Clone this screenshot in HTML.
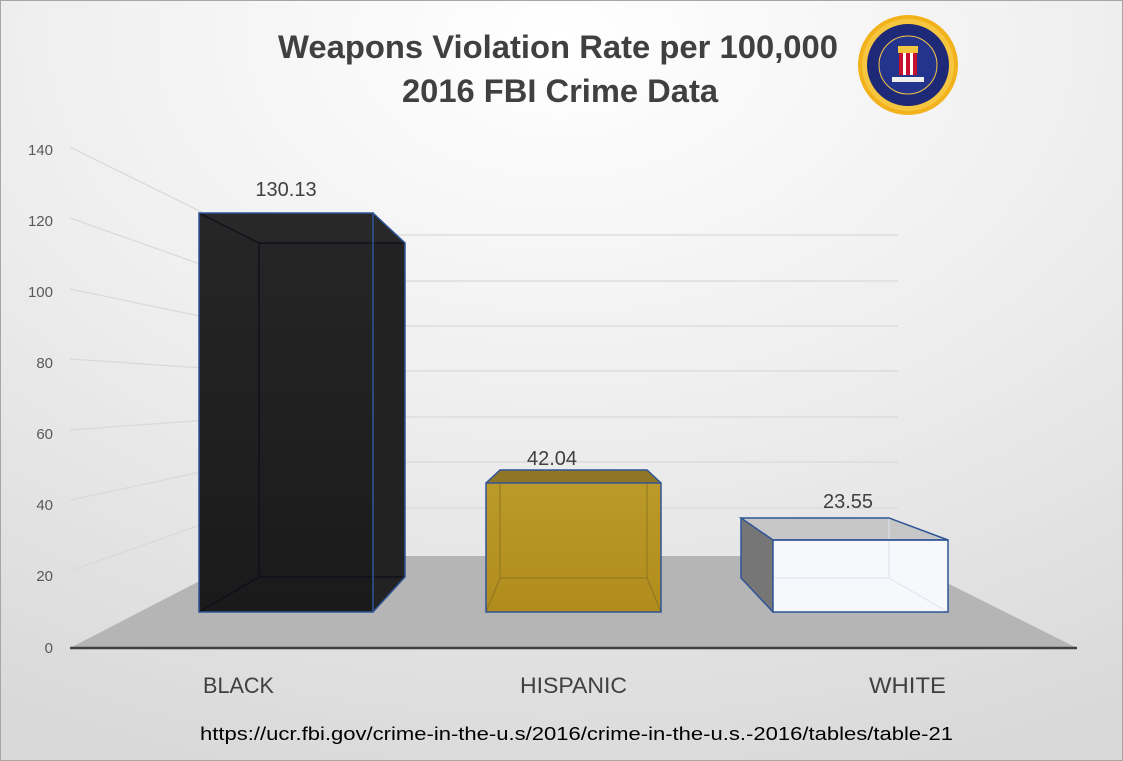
<!DOCTYPE html>
<html><head><meta charset="utf-8"><style>
html,body{margin:0;padding:0;width:1123px;height:761px;overflow:hidden;background:#fff}
svg{display:block}
text{font-family:"Liberation Sans",sans-serif}
</style></head><body>
<svg width="1123" height="761" viewBox="0 0 1123 761" xmlns="http://www.w3.org/2000/svg">
<defs>
<radialGradient id="bg" cx="0.5" cy="0.05" r="1.0">
<stop offset="0" stop-color="#ffffff"/><stop offset="0.5" stop-color="#eeeeee"/><stop offset="1" stop-color="#d9d9d9"/>
</radialGradient>
<linearGradient id="blk" x1="0" y1="0" x2="0" y2="1"><stop offset="0" stop-color="#262626"/><stop offset="1" stop-color="#1a1a1a"/></linearGradient>
<linearGradient id="gold" x1="0" y1="0" x2="0" y2="1"><stop offset="0" stop-color="#bb9a2a"/><stop offset="1" stop-color="#b08c1c"/></linearGradient>
</defs>
<rect x="0.5" y="0.5" width="1122" height="760" fill="url(#bg)" stroke="#a6a6a6"/>
<!-- title -->
<text x="558" y="58" font-size="32" font-weight="bold" fill="#404040" text-anchor="middle" textLength="560" lengthAdjust="spacingAndGlyphs">Weapons Violation Rate per 100,000</text>
<text x="560" y="102" font-size="32" font-weight="bold" fill="#404040" text-anchor="middle" textLength="316" lengthAdjust="spacingAndGlyphs">2016 FBI Crime Data</text>
<!-- logo -->
<g transform="translate(908,65)">
<circle r="50" fill="#f2b21c"/>
<circle r="46" fill="#f6c640"/>
<circle r="42" fill="#1e2a78" stroke="#f6c640" stroke-width="2"/>
<circle r="29" fill="#24348c" stroke="#f6c640" stroke-width="1"/>
<rect x="-9" y="-12" width="18" height="22" fill="#c8102e"/>
<rect x="-5" y="-12" width="3" height="22" fill="#fff"/><rect x="2" y="-12" width="3" height="22" fill="#fff"/>
<rect x="-10" y="-19" width="20" height="7" fill="#f2c640"/>
<rect x="-16" y="12" width="32" height="5" fill="#eee"/>
</g>
<!-- back grid -->
<g stroke="#d9d9d9" stroke-width="1.2" fill="none">
<line x1="248" y1="235" x2="898" y2="235"/>
<line x1="248" y1="281" x2="898" y2="281"/>
<line x1="248" y1="326" x2="898" y2="326"/>
<line x1="248" y1="371" x2="898" y2="371"/>
<line x1="248" y1="417" x2="898" y2="417"/>
<line x1="248" y1="462" x2="898" y2="462"/>
<line x1="248" y1="508" x2="898" y2="508"/>
<line x1="70" y1="147" x2="248" y2="235"/>
<line x1="70" y1="218" x2="248" y2="281"/>
<line x1="70" y1="289" x2="248" y2="326"/>
<line x1="70" y1="359" x2="248" y2="371"/>
<line x1="70" y1="430" x2="248" y2="417"/>
<line x1="70" y1="500" x2="248" y2="462"/>
<line x1="70" y1="571" x2="248" y2="508"/>
</g>
<!-- floor -->
<polygon points="70,648 248,556 893,556 1077,648" fill="#b5b5b5"/>
<line x1="70" y1="648" x2="1077" y2="648" stroke="#404040" stroke-width="2.5"/>
<!-- y labels -->
<g font-size="15" fill="#595959" text-anchor="end">
<text x="53" y="155">140</text><text x="53" y="226">120</text><text x="53" y="297">100</text>
<text x="53" y="368">80</text><text x="53" y="439">60</text><text x="53" y="510">40</text>
<text x="53" y="581">20</text><text x="53" y="653">0</text>
</g>
<!-- black bar -->
<rect x="199" y="213" width="174" height="399" fill="url(#blk)"/>
<polygon points="373,213 405,243 405,577 373,612" fill="#222"/>
<polygon points="199,213 373,213 405,243 259,243" fill="#282828"/>
<g stroke="#0c0c1a" stroke-width="1.2" fill="none">
<line x1="199" y1="213" x2="259" y2="243"/><line x1="259" y1="243" x2="405" y2="243"/>
<line x1="259" y1="243" x2="259" y2="577"/><line x1="259" y1="577" x2="405" y2="577"/><line x1="199" y1="612" x2="259" y2="577"/>
</g>
<g stroke="#2f5597" stroke-width="1.5" fill="none">
<rect x="199" y="213" width="174" height="399"/>
<polyline points="373,213 405,243 405,577 373,612"/>
</g>
<!-- hispanic -->
<rect x="486" y="483" width="175" height="129" fill="url(#gold)"/>
<polygon points="486,483 500,470 647,470 661,483" fill="#8f7626"/>
<g stroke="#8e7520" stroke-width="1" fill="none">
<polyline points="500,470 500,578 647,578 647,470"/><line x1="486" y1="612" x2="500" y2="578"/><line x1="661" y1="612" x2="647" y2="578"/>
</g>
<g stroke="#2f5597" stroke-width="1.5" fill="none">
<rect x="486" y="483" width="175" height="129"/><polyline points="486,483 500,470 647,470 661,483"/>
</g>
<!-- white -->
<polygon points="741,518 773,540 773,612 741,578" fill="#767676"/>
<polygon points="741,518 889,518 948,540 773,540" fill="#c6c6c6"/>
<rect x="773" y="540" width="175" height="72" fill="#f7f8fb"/>
<g stroke="#dde3ee" stroke-width="1" fill="none"><polyline points="889,518 889,578 948,612"/><line x1="773" y1="578" x2="889" y2="578"/></g>
<g stroke="#2f5597" stroke-width="1.5" fill="none">
<rect x="773" y="540" width="175" height="72"/><polygon points="741,518 889,518 948,540 773,540"/><polyline points="741,518 741,578 773,612"/>
</g>
<!-- data labels -->
<g font-size="20" fill="#404040" text-anchor="middle">
<text x="286" y="196">130.13</text><text x="552" y="465">42.04</text><text x="848" y="508">23.55</text>
</g>
<g font-size="22" fill="#404040">
<text x="203" y="693" textLength="71" lengthAdjust="spacingAndGlyphs">BLACK</text>
<text x="520" y="693" textLength="107" lengthAdjust="spacingAndGlyphs">HISPANIC</text>
<text x="869" y="693" textLength="77" lengthAdjust="spacingAndGlyphs">WHITE</text>
</g>
<text x="200" y="740" font-size="18" fill="#000" textLength="753" lengthAdjust="spacingAndGlyphs">https://ucr.fbi.gov/crime-in-the-u.s/2016/crime-in-the-u.s.-2016/tables/table-21</text>
</svg>
</body></html>
